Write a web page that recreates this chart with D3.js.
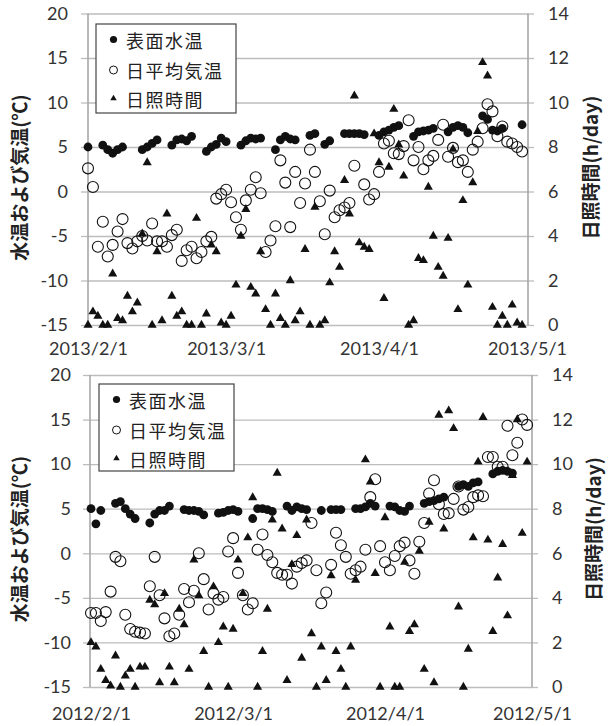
<!DOCTYPE html>
<html>
<head>
<meta charset="utf-8">
<script src="https://cdn.jsdelivr.net/npm/d3@7"></script>
<style>
  body { margin: 0; background: #fff; }
  svg { display: block; }
</style>
</head>
<body>
<svg id="chart" width="611" height="726"></svg>
<script>
// ---- data (daily values from the first of February, null = no data) ----
const start2013 = "2013-02-01", end2013 = "2013-05-01";
const start2012 = "2012-02-01", end2012 = "2012-05-01";

const seriesNames = ["表面水温", "日平均気温", "日照時間"];
const tempTicks = [-15, -10, -5, 0, 5, 10, 15, 20];
const sunTicks = [0, 2, 4, 6, 8, 10, 12, 14];

// 表面水温 (weekdays only)
const water2013 = [
  5.0, null, null, 5.2, 4.7, 4.3, 4.7, 5.0, null, null,
  null, 4.7, 5.0, 5.4, 5.8, null, null, 5.2, 5.8, 5.9,
  5.7, 6.2, null, null, 4.5, 5.0, 5.3, 6.0, 5.6, null,
  null, 5.2, 5.7, 6.0, 5.9, 6.0, null, null, 4.7, 5.8,
  6.2, 5.9, 5.8, null, null, 6.3, 6.5, null, 5.3, 5.7,
  null, null, 6.5, 6.5, 6.5, 6.5, 6.4, null, null, 6.3,
  6.7, 6.9, 7.2, 7.4, null, null, 6.2, 6.7, 6.8, 6.9,
  7.1, null, null, 6.7, 7.2, 7.4, 7.2, 6.6, null, null,
  8.5, 8.1, 6.9, 6.8, 7.1, null, null, null, 7.5
];
// 日平均気温
const air2013 = [
  2.6, 0.5, -6.2, -3.4, -7.3, -6.0, -4.5, -3.1, -5.8, -6.4,
  -5.6, -5.0, -5.5, -3.6, -5.6, -5.6, -6.2, -4.9, -4.3, -7.8,
  -6.6, -6.2, -7.5, -6.8, -5.6, -5.1, -0.8, -0.3, 0.2, -1.2,
  -2.9, -4.3, -1.0, 0.2, 1.6, -0.2, -6.8, -5.5, -3.9, 3.5,
  1.0, -4.0, 2.2, -1.3, 0.9, 4.7, 2.2, -1.1, -4.8, 0.1,
  -2.9, -2.1, -1.8, -1.3, 2.9, null, 0.8, -0.9, -0.3, 2.2,
  5.4, 5.7, 4.3, 4.2, 5.1, 8.0, 3.5, 5.0, 2.5, 3.5,
  4.0, 5.8, 7.5, 3.9, 4.9, 3.3, 3.5, 2.2, 4.7, 5.6,
  7.1, 9.8, 9.0, 6.2, 7.3, 5.6, 5.4, 5.0, 4.5
];
// 日照時間
const sun2013 = [
  0, 0.6, 0.4, 0, 0, 2.3, 0.3, 0.2, 1.3, 0.6,
  1.0, 4.1, 7.3, 0, 3.3, 0.2, 5.0, 1.3, 0.4, 0.6,
  0, 0, 4.8, 0, 0.5, 3.6, 3.3, 0.1, 0, 0.4,
  1.8, 4.0, 5.2, 1.7, 1.4, 3.3, 0.7, 0, 1.4, 0.3,
  0, 2.0, 0.2, 0.6, 3.4, 0, 5.3, 0, 0.2, 1.9,
  3.3, 2.6, 6.5, 5.0, 10.3, 3.7, 3.5, 3.4, 8.6, 7.3,
  1.2, 7.1, 9.7, 8.1, 6.7, 0, 0.2, 3.0, 2.9, 6.2,
  4.0, 2.6, 2.2, 3.9, 7.9, 0.7, 5.6, 1.8, 6.4, 8.7,
  11.8, 11.2, 0.8, 0, 0.4, 0, 0.9, 0.1, 0
];

const water2012 = [
  5.0, 3.3, 4.8, null, null, 5.6, 5.8, 5.0, 4.4, 3.9,
  null, null, 3.4, 4.4, 4.8, 4.8, 5.3, null, null, 4.9,
  4.8, 4.8, 4.7, 4.3, null, null, 4.5, 4.6, 4.8, 4.9,
  4.7, null, null, 3.9, 5.0, 5.0, 4.9, 4.7, null, null,
  5.3, 4.8, 5.2, 5.0, 4.9, null, null, 4.8, null, 4.9,
  4.9, 4.9, null, null, 5.0, 5.0, 5.2, 5.6, 5.3, null,
  null, 5.3, 5.2, 4.8, 4.7, 5.3, null, null, 5.6, 5.8,
  5.9, 6.1, 6.3, null, null, 7.5, 7.7, 7.5, 7.9, 8.0,
  null, null, 8.9, 9.2, 9.3, 9.2, 9.0, null, null, null
];
const air2012 = [
  -6.7, -6.7, -7.6, -6.6, -4.3, -0.4, -0.9, -6.9, -8.5, -8.8,
  -8.9, -9.0, -3.7, -0.4, -4.7, -7.3, -9.3, -9.0, -6.9, -4.0,
  -5.5, -4.2, 0.0, -2.9, -6.3, -4.5, -5.2, -4.9, 0.2, 1.7,
  -2.2, -4.7, -6.3, -5.6, 0.4, 2.1, -0.2, -1.0, -2.2, -2.4,
  -2.4, -3.4, -1.5, -1.1, -0.8, 3.4, -1.9, -5.6, -4.4, -1.3,
  2.3, 0.9, -0.4, -2.3, -1.9, -1.5, 0.4, 6.3, 8.3, 0.8,
  -1.0, -1.9, -0.3, 0.8, 1.2, -0.8, -2.3, 1.3, 3.4, 6.7,
  8.2, 5.5, 4.4, 4.5, 6.1, 7.5, 4.9, 5.2, 6.3, 6.5,
  6.4, 10.8, 10.8, 9.7, 9.7, 14.3, 11.0, 12.4, 15.0, 14.4
];
const sun2012 = [
  2.0, 1.8, 0.8, 0.3, 0.05, 1.4, 0, 0.5, 0.8, 0,
  0.9, 0.9, 3.9, 3.7, 0.2, 4.2, 0.9, 0.2, 3.5, 2.8,
  0.8, 5.7, 4.1, 1.6, 0, 4.5, 2.0, 2.7, 0, 2.6,
  5.7, 4.2, 6.7, 8.5, 0, 1.6, 3.5, 7.5, 9.6, 7.1,
  0.3, 5.5, 6.8, 1.3, 7.5, 2.4, 0, 1.8, 0.3, 5.0,
  1.6, 0.8, 0, 1.8, 4.8, null, 10.2, 9.2, 5.1, 0,
  7.6, 2.7, 0, 0, 5.6, 2.5, 2.8, 6.1, 0.8, 7.4,
  0.2, 12.2, 7.1, 12.4, 11.6, 3.6, 0, 1.7, 6.7, 10.1,
  12.1, 6.6, 2.5, 4.9, 6.4, 3.2, 9.5, 12.0, 6.9, 10.1
];

// ---- layout ----
const FONT_NUM = "Lato, 'Open Sans', sans-serif";
const FONT_JP = "'Noto Sans CJK JP', 'Noto Sans', sans-serif";
const TEXT = "#333";
const GRID = "#bdbdbd";

const panels = [
  { start: start2013, end: end2013, water: water2013, air: air2013, sun: sun2013,
    x0: 88, x1: 527, left: 88, right: 528, top: 13.5, bottom: 325,
    leftLabelPad: 13, rightLabelPad: 14, datePad: 17,
    legend: { x: 96, y: 24, w: 140, h: 89 }, titleL: 18, titleR: 589 },
  { start: start2012, end: end2012, water: water2012, air: air2012, sun: sun2012,
    x0: 91, x1: 532, left: 90, right: 532, top: 375, bottom: 687,
    leftLabelPad: 12, rightLabelPad: 14, datePad: 20,
    legend: { x: 99, y: 384, w: 135, h: 87 }, titleL: 18, titleR: 592 }
];

const svg = d3.select("#chart");
const parse = d3.timeParse("%Y-%m-%d");
const fmt = d3.timeFormat("%Y/%-m/%-d");
const plainNum = d => String(d); // hyphen minus like the original

panels.forEach(drawPanel);

function drawPanel(p) {
  const g = svg.append("g");
  const t0 = parse(p.start), t1 = parse(p.end);
  const x = d3.scaleTime().domain([t0, t1]).range([p.x0, p.x1]);
  const yT = d3.scaleLinear().domain([-15, 20]).range([p.bottom, p.top]);
  const yS = d3.scaleLinear().domain([0, 14]).range([p.bottom, p.top]);
  const w = p.right - p.left;

  const toPoints = arr => arr
    .map((v, i) => ({ date: d3.timeDay.offset(t0, i), v }))
    .filter(d => d.v !== null);

  // gridlines
  g.append("g")
    .attr("transform", `translate(${p.left},0)`)
    .call(d3.axisLeft(yT).tickValues(tempTicks).tickSize(-w).tickFormat(""))
    .call(a => a.select(".domain").remove())
    .call(a => a.selectAll("line").attr("stroke", GRID).attr("stroke-width", 1.3));

  // left axis
  g.append("g")
    .attr("transform", `translate(${p.left},0)`)
    .call(d3.axisLeft(yT).tickValues(tempTicks).tickFormat(plainNum)
      .tickSize(7).tickPadding(p.leftLabelPad))
    .call(a => a.select(".domain").remove())
    .call(a => a.selectAll("line").attr("stroke", GRID).attr("stroke-width", 1.3))
    .call(a => a.selectAll("text").attr("fill", TEXT)
      .style("font-family", FONT_NUM).style("font-size", "18px"));

  // right axis
  g.append("g")
    .attr("transform", `translate(${p.right},0)`)
    .call(d3.axisRight(yS).tickValues(sunTicks).tickFormat(plainNum)
      .tickSize(6).tickPadding(p.rightLabelPad))
    .call(a => a.select(".domain").remove())
    .call(a => a.selectAll("line").attr("stroke", GRID).attr("stroke-width", 1.3))
    .call(a => a.selectAll("text").attr("fill", TEXT)
      .style("font-family", FONT_NUM).style("font-size", "18px"));

  // vertical frame lines
  g.selectAll(".vline")
    .data([p.left, p.right])
    .join("line")
    .attr("x1", d => d).attr("x2", d => d)
    .attr("y1", p.top).attr("y2", p.bottom)
    .attr("stroke", "#a8a8a8").attr("stroke-width", 1.6);

  // date axis (labels below the plot)
  g.append("g")
    .attr("transform", `translate(0,${p.bottom})`)
    .call(d3.axisBottom(x).tickValues(d3.timeMonth.range(t0, d3.timeDay.offset(t1, 1)))
      .tickFormat(fmt).tickSize(0).tickPadding(p.datePad))
    .call(a => a.select(".domain").remove())
    .call(a => a.selectAll("text").attr("fill", TEXT)
      .style("font-family", FONT_NUM).style("font-size", "18px"));

  // series: water (filled), air (open), sunshine (triangles)
  g.append("g").selectAll("circle")
    .data(toPoints(p.water))
    .join("circle")
    .attr("cx", d => x(d.date)).attr("cy", d => yT(d.v))
    .attr("r", 4.4).attr("fill", "#111");

  g.append("g").selectAll("circle")
    .data(toPoints(p.air))
    .join("circle")
    .attr("cx", d => x(d.date)).attr("cy", d => yT(d.v))
    .attr("r", 5.5).attr("fill", "none")
    .attr("stroke", "#111").attr("stroke-width", 1.1);

  const tri = d3.symbol().type(d3.symbolTriangle).size(36);
  g.append("g").selectAll("path")
    .data(toPoints(p.sun))
    .join("path")
    .attr("d", tri)
    .attr("transform", d => `translate(${x(d.date)},${yS(d.v)})`)
    .attr("fill", "#111");

  // axis titles
  g.append("text")
    .attr("transform", `translate(${p.titleL},${p.top + 164}) rotate(-90)`)
    .attr("text-anchor", "middle")
    .attr("dominant-baseline", "central")
    .style("font-family", FONT_JP).style("font-size", "19px").style("font-weight", "bold")
    .attr("fill", "#222")
    .text("水温および気温(℃)");

  g.append("text")
    .attr("transform", `translate(${p.titleR},${p.top + 154}) rotate(-90)`)
    .attr("text-anchor", "middle")
    .attr("dominant-baseline", "central")
    .style("font-family", FONT_JP).style("font-size", "19px").style("font-weight", "bold")
    .attr("fill", "#222")
    .text("日照時間(h/day)");

  // legend
  const L = p.legend;
  const lg = g.append("g").attr("transform", `translate(${L.x},${L.y})`);
  lg.append("rect")
    .attr("width", L.w).attr("height", L.h)
    .attr("fill", "#fff").attr("stroke", "#444").attr("stroke-width", 1.2);

  const rowY = [15.5, 46, 74.5];
  const mx = 17.5;
  lg.append("circle").attr("cx", mx).attr("cy", rowY[0]).attr("r", 3.6).attr("fill", "#111");
  lg.append("circle").attr("cx", mx).attr("cy", rowY[1]).attr("r", 4)
    .attr("fill", "none").attr("stroke", "#111").attr("stroke-width", 1);
  lg.append("path").attr("d", d3.symbol().type(d3.symbolTriangle).size(18))
    .attr("transform", `translate(${mx},${rowY[2]})`).attr("fill", "#111");

  lg.selectAll(".lt")
    .data(seriesNames)
    .join("text")
    .attr("x", 30)
    .attr("y", (d, i) => rowY[i])
    .attr("dominant-baseline", "central")
    .style("font-family", FONT_JP).style("font-size", "18px")
    .style("letter-spacing", "1.5px")
    .attr("fill", "#222")
    .text(d => d);
}
</script>
</body>
</html>
